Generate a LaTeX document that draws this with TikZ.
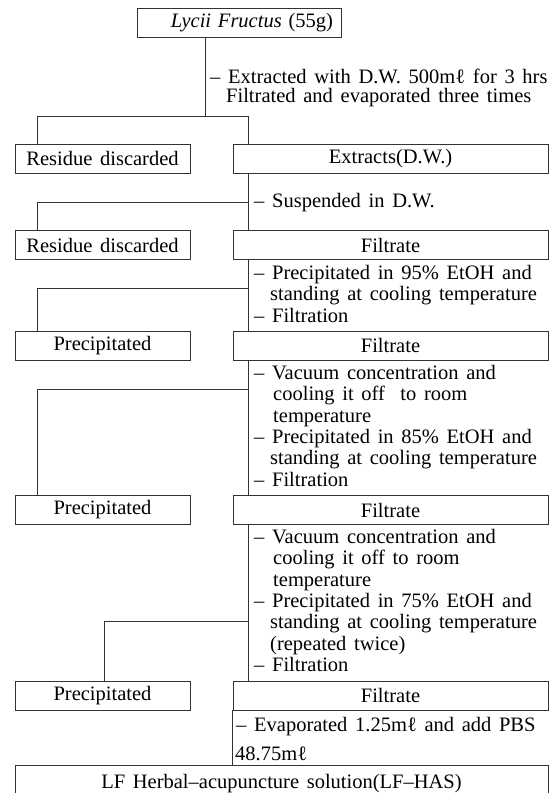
\documentclass[tikz,border=0pt]{standalone}
\usepackage{fontspec}
\setmainfont{Liberation Serif}[WordSpace=1.5]
\newcommand{\mainfs}{\fontsize{20.5}{21.5}\selectfont}
\tikzset{
  box/.style={draw=black!80, line width=0.9pt, inner sep=0pt, minimum height=29pt, font=\mainfs},
  lbox/.style={box, minimum width=175pt},
  rbox/.style={box, minimum width=315pt},
  txt/.style={anchor=base west, inner sep=0pt, font=\mainfs},
  conn/.style={draw=black!80, line width=0.9pt},
}
\begin{document}
\begin{tikzpicture}[x=1pt,y=-1pt]
\useasboundingbox (0,0) rectangle (556,793);
\clip (0,0) rectangle (556,793);
% boxes
\node[box, minimum width=204pt, text width=188pt, align=right] (top) at (239,22.5) {\textit{Lycii Fructus} (55g)};
\node[lbox] (res1) at (102.5,158.5) {Residue discarded};
\node[rbox] (ext)  at (390.5,158.5) {Extracts(D.W.)};
\node[lbox] (res2) at (102.5,245) {Residue discarded};
\node[rbox] (fil2) at (390.5,245) {Filtrate};
\node[lbox] (pre3) at (102.5,345.5) {Precipitated};
\node[rbox] (fil3) at (390.5,345.5) {Filtrate};
\node[lbox] (pre4) at (102.5,510) {Precipitated};
\node[rbox] (fil4) at (390.5,510) {Filtrate};
\node[lbox] (pre5) at (102.5,695.5) {Precipitated};
\node[rbox] (fil5) at (390.5,695.5) {Filtrate};
\node[box, minimum width=533pt, minimum height=36pt, anchor=north] (has) at (281.5,765) {LF Herbal–acupuncture solution(LF–HAS)};
% junction coordinates
\coordinate (T) at (205,0);
\coordinate (M) at (248,0);
\coordinate (L) at (37,0);
\coordinate (L5) at (104,0);
\coordinate (h1) at (0,116);
\coordinate (h2) at (0,202);
\coordinate (h3) at (0,288);
\coordinate (h4) at (0,389);
\coordinate (h5) at (0,621);
% connectors
\draw[conn] (top.south -| T) -- (T |- h1);
\draw[conn] (res1.north -| L) -- (L |- h1) -- (M |- h1) -- (ext.north -| M);
\draw[conn] (ext.south -| M) -- (fil2.north -| M);
\draw[conn] (M |- h2) -- (L |- h2) -- (res2.north -| L);
\draw[conn] (fil2.south -| M) -- (fil3.north -| M);
\draw[conn] (M |- h3) -- (L |- h3) -- (pre3.north -| L);
\draw[conn] (fil3.south -| M) -- (fil4.north -| M);
\draw[conn] (M |- h4) -- (L |- h4) -- (pre4.north -| L);
\draw[conn] (fil4.south -| M) -- (fil5.north -| M);
\draw[conn] (M |- h5) -- (L5 |- h5) -- (pre5.north -| L5);
\draw[conn] (fil5.south west) -- (fil5.south west |- has.north);
% step texts
\node[txt] (a1) at (210,83) {– Extracted with D.W. 500mℓ for 3 hrs};
\node[txt] (a2) at (226,102) {Filtrated and evaporated three times};
\node[txt] (b1) at (254,207) {– Suspended in D.W.};
\node[txt] (c1) at (254,279) {– Precipitated in 95\% EtOH and};
\node[txt] (c2) at (270,300.5) {standing at cooling temperature};
\node[txt] (c3) at (254,322) {– Filtration};
\node[txt] (d1) at (254,379) {– Vacuum concentration and};
\node[txt] (d2) at (273,400.5) {cooling it off\ \ to room};
\node[txt] (d3) at (273,422) {temperature};
\node[txt] (d4) at (254,443) {– Precipitated in 85\% EtOH and};
\node[txt] (d5) at (270,464.5) {standing at cooling temperature};
\node[txt] (d6) at (254,486) {– Filtration};
\node[txt] (e1) at (254,543) {– Vacuum concentration and};
\node[txt] (e2) at (273,564.5) {cooling it off to room};
\node[txt] (e3) at (273,586) {temperature};
\node[txt] (e4) at (254,607) {– Precipitated in 75\% EtOH and};
\node[txt] (e5) at (270,628.5) {standing at cooling temperature};
\node[txt] (e6) at (270,650) {(repeated twice)};
\node[txt] (e7) at (254,671) {– Filtration};
\node[txt] (f1) at (236,731) {– Evaporated 1.25mℓ and add PBS};
\node[txt] (f2) at (235,760) {48.75mℓ};
\end{tikzpicture}
\end{document}
